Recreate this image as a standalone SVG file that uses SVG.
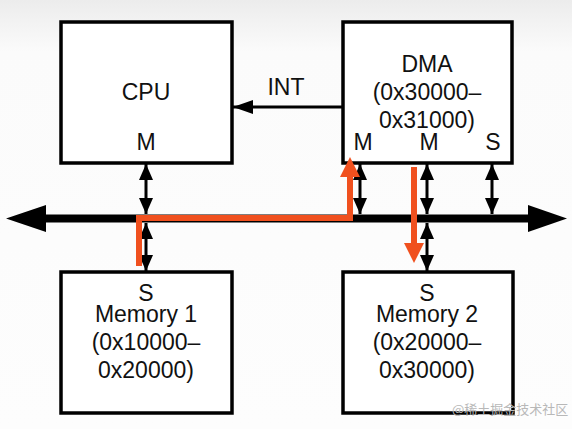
<svg xmlns="http://www.w3.org/2000/svg" width="572" height="429" viewBox="0 0 572 429">
<defs>
<linearGradient id="bg" x1="0" y1="0" x2="0" y2="1">
<stop offset="0" stop-color="#ececec"/>
<stop offset="0.12" stop-color="#fbfbfb"/>
<stop offset="1" stop-color="#fdfdfd"/>
</linearGradient>
<marker id="ah" viewBox="0 0 16 14" refX="16" refY="7" markerWidth="16" markerHeight="14" markerUnits="userSpaceOnUse" orient="auto-start-reverse">
<path d="M0,0 L16,7 L0,14 Z" fill="#000"/>
</marker>
<marker id="ahInt" viewBox="0 0 20 14" refX="20" refY="7" markerWidth="20" markerHeight="14" markerUnits="userSpaceOnUse" orient="auto">
<path d="M0,0 L20,7 L0,14 Z" fill="#000"/>
</marker>
<marker id="ahRed" viewBox="0 0 20 20" refX="1" refY="10" markerWidth="20" markerHeight="20" markerUnits="userSpaceOnUse" orient="auto">
<path d="M0,0 L20,10 L0,20 Z" fill="#f0501e"/>
</marker>
</defs>
<style>
.box{fill:#fff;stroke:#000;stroke-width:3.5}
.t{font-family:"Liberation Sans",Arial,sans-serif;font-size:23px;fill:#111;text-anchor:middle}
.link{stroke:#000;stroke-width:3;fill:none}
.red{stroke:#f0501e;stroke-width:6;fill:none}
.wm{font-family:"Noto Sans CJK SC","Liberation Sans",sans-serif;font-size:13px;fill:#b8b8b8}
</style>
<rect width="572" height="429" fill="url(#bg)"/>
<g id="cpu">
<rect class="box" x="61" y="22" width="171" height="141"/>
<text class="t" x="146" y="100">CPU</text>
<text class="t" x="146" y="150">M</text>
</g>
<g id="dma">
<rect class="box" x="343" y="22" width="169" height="141"/>
<text class="t" x="427" y="72">DMA</text>
<text class="t" x="427" y="100">(0x30000–</text>
<text class="t" x="427" y="128">0x31000)</text>
<text class="t" x="363" y="150">M</text>
<text class="t" x="429" y="150">M</text>
<text class="t" x="493" y="150">S</text>
</g>
<g id="mem1">
<rect class="box" x="61" y="272" width="171" height="141"/>
<text class="t" x="146" y="301">S</text>
<text class="t" x="146" y="322">Memory 1</text>
<text class="t" x="146" y="350">(0x10000–</text>
<text class="t" x="146" y="378">0x20000)</text>
</g>
<g id="mem2">
<rect class="box" x="343" y="272" width="170" height="141"/>
<text class="t" x="427" y="301">S</text>
<text class="t" x="427" y="322">Memory 2</text>
<text class="t" x="427" y="350">(0x20000–</text>
<text class="t" x="427" y="378">0x30000)</text>
</g>
<g id="connectors">
<line x1="44" y1="218.5" x2="530" y2="218.5" stroke="#000" stroke-width="8"/>
<polygon points="6,218.5 46,205 46,232" fill="#000"/>
<polygon points="567,218.5 528,205 528,232" fill="#000"/>
<line class="link" x1="146" y1="164" x2="146" y2="214" marker-start="url(#ah)" marker-end="url(#ah)"/>
<line class="link" x1="146" y1="223" x2="146" y2="271" marker-start="url(#ah)" marker-end="url(#ah)"/>
<line class="link" x1="360" y1="164" x2="360" y2="214" marker-start="url(#ah)" marker-end="url(#ah)"/>
<line class="link" x1="427" y1="164" x2="427" y2="214" marker-start="url(#ah)" marker-end="url(#ah)"/>
<line class="link" x1="427" y1="223" x2="427" y2="271" marker-start="url(#ah)" marker-end="url(#ah)"/>
<line class="link" x1="492" y1="164" x2="492" y2="214" marker-start="url(#ah)" marker-end="url(#ah)"/>
<line x1="342" y1="107" x2="233" y2="107" stroke="#000" stroke-width="3" marker-end="url(#ahInt)"/>
<text class="t" x="286" y="95">INT</text>
<path class="red" d="M139,266 L139,218 L350,218 L350,176" marker-end="url(#ahRed)"/>
<path class="red" d="M414,167 L414,244" marker-end="url(#ahRed)"/>
</g>
<text class="wm" x="452" y="414">@稀土掘金技术社区</text>
</svg>
